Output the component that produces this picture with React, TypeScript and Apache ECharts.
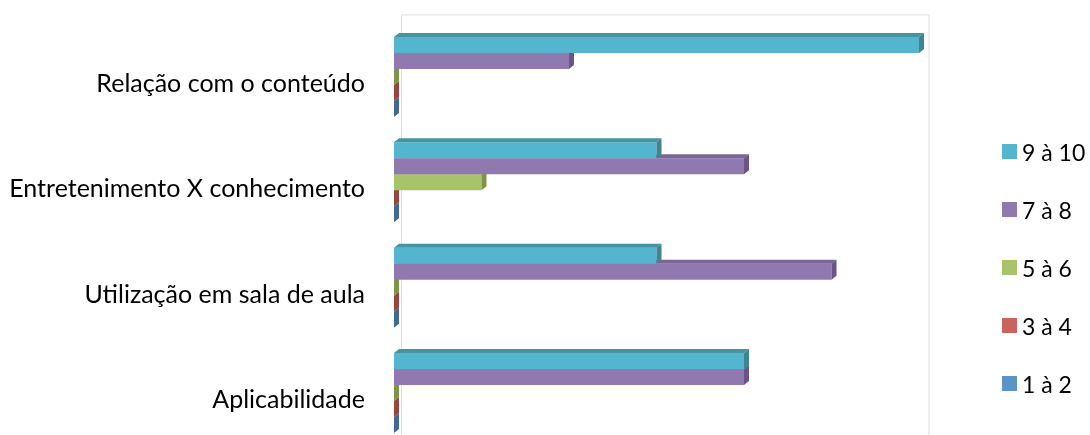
import React, { useEffect, useRef } from "react";
import * as echarts from "echarts";

const categories = [
  "Aplicabilidade",
  "Utilização em sala de aula",
  "Entretenimento X conhecimento",
  "Relação com o conteúdo",
];
const seriesNames = ["1 à 2", "3 à 4", "5 à 6", "7 à 8", "9 à 10"];
const v1a2 = [0, 0, 0, 0];
const v3a4 = [0, 0, 0, 0];
const v5a6 = [0, 0, 1, 0];
const v7a8 = [4, 5, 4, 2];
const v9a10 = [4, 3, 3, 6];
const seriesValues = [v1a2, v3a4, v5a6, v7a8, v9a10];
const legendOrder = ["9 à 10", "7 à 8", "5 à 6", "3 à 4", "1 à 2"];

const frontColors = ["#5B93C9", "#CB625E", "#A8C46A", "#8F79AF", "#53B6CE"];
const topColors = ["#4A78A8", "#A54B47", "#8BA552", "#7A6596", "#4693A2"];
const sideColors = ["#3F6A98", "#9A4440", "#7E9446", "#6A5588", "#3D8593"];

const GRID_LEFT = 394;
const GRID_W = 525;
const GRID_TOP = 24.4;
const GRID_H = 421.2;
const DX = 5;
const DY = 4;
const GROUP_RATIO = 0.76;

export default function App() {
  const ref = useRef<HTMLDivElement>(null);
  useEffect(() => {
    if (!ref.current) return;
    const chart = echarts.init(ref.current, undefined, { renderer: "svg" });
    const nS = seriesNames.length;
    const series = seriesNames.map((name, s) => ({
      name,
      type: "custom",
      itemStyle: { color: frontColors[s] },
      encode: { x: 0, y: 1 },
      data: seriesValues[s].map((v, c) => [v, c]),
      renderItem: (params: any, api: any) => {
        const v = api.value(0);
        const c = api.value(1);
        const p0 = api.coord([0, c]);
        const p1 = api.coord([v, c]);
        const band = api.size([0, 1])[1];
        const barH = (band * GROUP_RATIO) / nS;
        const groupBottom = p0[1] + (barH * nS) / 2;
        const yBottom = groupBottom - s * barH;
        const yTop = yBottom - barH;
        const x0 = p0[0];
        const x1 = p1[0];
        return {
          type: "group",
          children: [
            {
              type: "rect",
              shape: { x: x0, y: yTop, width: x1 - x0, height: barH },
              style: { fill: frontColors[s] },
            },
            {
              type: "polygon",
              shape: {
                points: [
                  [x0, yTop],
                  [x0 + DX, yTop - DY],
                  [x1 + DX, yTop - DY],
                  [x1, yTop],
                ],
              },
              style: { fill: topColors[s] },
            },
            {
              type: "polygon",
              shape: {
                points: [
                  [x1, yTop],
                  [x1 + DX, yTop - DY],
                  [x1 + DX, yBottom - DY],
                  [x1, yBottom],
                ],
              },
              style: { fill: sideColors[s] },
            },
          ],
        };
      },
    }));
    const wallL = GRID_LEFT + 7.5;
    const wallR = GRID_LEFT + GRID_W + 10;
    const wallT = GRID_TOP - 9.5;
    chart.setOption({
      animation: false,
      textStyle: { fontFamily: "Lato" },
      grid: {
        left: GRID_LEFT,
        top: GRID_TOP,
        width: GRID_W,
        height: GRID_H,
        containLabel: false,
        outerBoundsMode: "none",
      },
      graphic: [
        {
          type: "polyline",
          z: -1,
          shape: {
            points: [
              [wallL, 440],
              [wallL, wallT],
              [wallR, wallT],
              [wallR, 440],
            ],
          },
          style: { stroke: "#DCDCDC", lineWidth: 1, fill: null },
        },
      ],
      legend: {
        data: legendOrder,
        orient: "vertical",
        left: 1002,
        top: 139.5,
        padding: 0,
        icon: "rect",
        itemWidth: 15,
        itemHeight: 15,
        itemGap: 34,
        textStyle: {
          fontFamily: "Lato",
          fontSize: 23,
          color: "#000",
          lineHeight: 24,
        },
      },
      xAxis: {
        type: "value",
        min: 0,
        max: 6,
        show: false,
      },
      yAxis: {
        type: "category",
        data: categories,
        axisLine: { show: false },
        axisTick: { show: false },
        splitLine: { show: false },
        axisLabel: {
          fontFamily: "Lato",
          fontSize: 25,
          color: "#000",
          margin: 29,
          verticalAlign: "top",
          lineHeight: 10,
        },
      },
      series,
    });
    return () => chart.dispose();
  }, []);
  return (
    <div
      ref={ref}
      style={{ position: "fixed", left: 0, top: 0, width: 1090, height: 435 }}
    />
  );
}
